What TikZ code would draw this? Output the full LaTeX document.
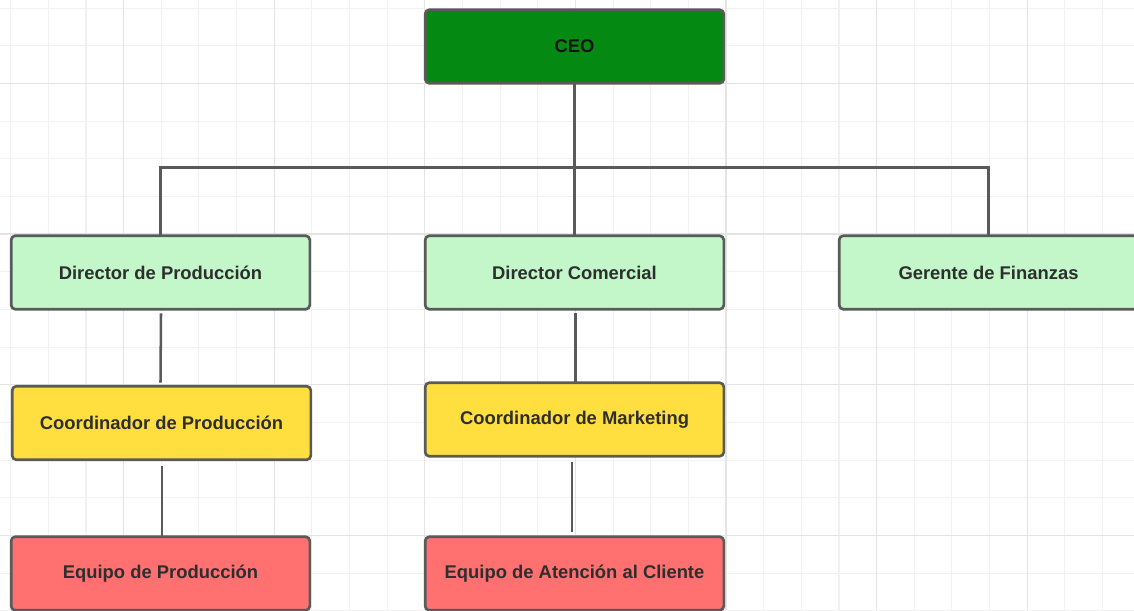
\documentclass[tikz,border=0pt]{standalone}
\usepackage{fontspec}
\setmainfont{Liberation Sans}
\usetikzlibrary{calc}

\definecolor{gridminor}{HTML}{F1F1F1}
\definecolor{gridmajor}{HTML}{E4E4E4}
\definecolor{edge}{HTML}{5A5A5A}
\definecolor{ceogreen}{HTML}{048A12}
\definecolor{lightgreen}{HTML}{C3F6C8}
\definecolor{coordyellow}{HTML}{FFDF40}
\definecolor{teamred}{HTML}{FF7070}
\definecolor{label}{HTML}{2E2E2E}

\begin{document}
\begin{tikzpicture}[x=0.75pt,y=-0.75pt,
  orgbox/.style={draw=edge, line width=2pt, rounded corners=3.2pt,
    minimum width=224pt, minimum height=55.2pt, inner sep=0pt, outer sep=0pt,
    font=\fontsize{13.8}{16}\selectfont\bfseries, text=label},
  toplevel/.style={orgbox, fill=ceogreen, text=black!92},
  director/.style={orgbox, fill=lightgreen},
  coordinator/.style={orgbox, fill=coordyellow},
  team/.style={orgbox, fill=teamred},
  link/.style={draw=edge, line width=1.9pt}
]
\useasboundingbox (0,0) rectangle (1134,610);

% background grid
\fill[white] (0,0) rectangle (1134,610);
\foreach \i in {0,...,30}{
  \draw[gridminor, line width=0.8pt] ({10.7+37.65*\i},0) -- ++(0,610);
}
\foreach \i in {0,...,16}{
  \draw[gridminor, line width=0.8pt] (0,{8.3+37.65*\i}) -- ++(1134,0);
}
\foreach \i in {0,...,7}{
  \draw[gridmajor, line width=0.9pt] ({123.65+150.6*\i},0) -- ++(0,610);
}
\foreach \i in {0,...,3}{
  \draw[gridmajor, line width=0.9pt] (0,{83.3+150.6*\i}) -- ++(1134,0);
}

% boxes
\node[toplevel]    (ceo) at (574.5,46.5)  {CEO};
\node[director]    (dp)  at (160.5,272.5) {Director de Producción};
\node[director]    (dc)  at (574.5,272.5) {Director Comercial};
\node[director]    (gf)  at (988.5,272.5) {Gerente de Finanzas};
\node[coordinator] (cp)  at (161.5,423)   {Coordinador de Producción};
\node[coordinator] (cm)  at (574.5,419.5) {Coordinador de Marketing};
\node[team]        (ep)  at (160.5,573.5) {Equipo de Producción};
\node[team]        (ec)  at (574.5,573.5) {Equipo de Atención al Cliente};

% reporting lines
\draw[link] (ceo.south) -- (dc.north);
\draw[link] (dp.north) -- ++(0,-68) -| (gf.north);
\draw[link] ($(dp.south)+(0.5,4)$) -- ($(cp.north)+(-1,-3.5)$);
\draw[link] ($(cp.south)+(0.5,6)$) -- ($(ep.north)+(1.5,0)$);
\draw[link] ($(dc.south)+(1,4)$) -- ($(cm.north)+(1,0)$);
\draw[link] ($(cm.south)+(-2.5,6)$) -- ($(ec.north)+(-2.5,-5)$);
\end{tikzpicture}
\end{document}
